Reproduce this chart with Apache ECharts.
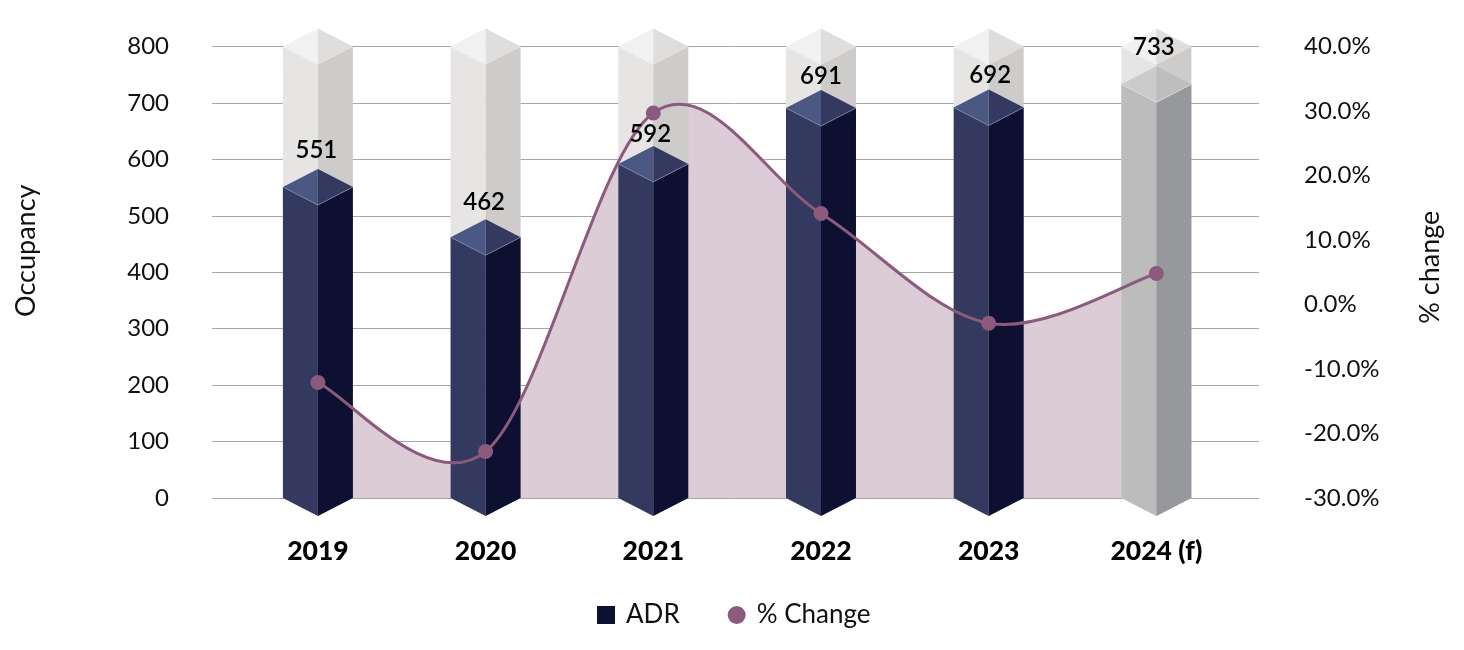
<!DOCTYPE html>
<html><head><meta charset="utf-8">
<style>html,body{margin:0;padding:0;background:#fff}#c{width:1464px;height:650px}</style>
<script src="https://cdn.jsdelivr.net/npm/echarts@6/dist/echarts.min.js"></script>
</head><body><div id="c"></div>
<script>
const categories = ['2019','2020','2021','2022','2023','2024 (f)'];
const adrValues = [551,462,592,691,692,733];
const ceilingValues = [800,800,800,800,800,800];
const pctChange = [-12.1,-22.8,29.7,14.1,-2.9,4.8];
const forecastCategory = '2024 (f)';
const occupancyTicks = {min:0,max:800,step:100};
const pctTicks = {min:-30,max:40,step:10};

const FONT = 'Lato, "Open Sans", sans-serif';
const TEXT = '#111111';
const PLUM = '#8c5a7d';
const NAVY = {left:'#33395f',right:'#0d1030',topL:'#4a5883',topR:'#33395f',edge:'#7d87aa'};
const FORE = {left:'#bcbcbc',right:'#97989b',topL:'#cbcbcb',topR:'#bdbdbd',edge:'#dddddd'};
const GHOST = {left:'#e6e5e4',right:'#cdcccb',topL:'#f0f1f2',topR:'#dfdedc',edge:null};
const HW = 35, HD = 18;
const labelDx = [-1.5,-1.5,-3,0,1.5,-2.5];
const labelDy = [-19,-17,-12,-14,-14,-19];

function column(paletteFor){
  return function(params, api){
    const idx = api.value(0);
    const top = api.coord([idx, api.value(1)]);
    const base = api.coord([idx, 0]);
    const x = top[0], y = top[1], b = base[1];
    const p = paletteFor(idx);
    const poly = (pts, fill) => ({type:'polygon', shape:{points:pts}, style:{fill:fill}, silent:true});
    const kids = [
      poly([[x-HW,y],[x,y+HD],[x,b+HD],[x-HW,b]], p.left),
      poly([[x+HW,y],[x,y+HD],[x,b+HD],[x+HW,b]], p.right),
      poly([[x-HW,y],[x,y-HD],[x,y+HD]], p.topL),
      poly([[x+HW,y],[x,y-HD],[x,y+HD]], p.topR)
    ];
    if(p.edge){
      kids.push({type:'polyline', shape:{points:[[x-HW,y],[x,y+HD],[x+HW,y]]}, style:{fill:null, stroke:p.edge, lineWidth:0.8}, silent:true});
    }
    return {type:'group', children:kids};
  };
}
const byIndex = arr => arr.map((v,i)=>[i,v]);

// Cubic segment i -> i+1 of a Catmull-Rom curve through the % change points, in pixels from the axes.
function segment(api, i){
  const pt = k => {
    const j = Math.max(0, Math.min(pctChange.length-1, k));
    return api.coord([j, pctChange[j]]);
  };
  const p0 = pt(i-1), p1 = pt(i), p2 = pt(i+1), p3 = pt(i+2);
  return {
    p1, p2,
    c1:[p1[0]+(p2[0]-p0[0])/6, p1[1]+(p2[1]-p0[1])/6],
    c2:[p2[0]-(p3[0]-p1[0])/6, p2[1]-(p3[1]-p1[1])/6]
  };
}
function renderCurve(params, api){
  const i = api.value(0);
  if(i >= pctChange.length-1) return null;
  const s = segment(api, i);
  return {type:'bezierCurve', silent:true,
    shape:{x1:s.p1[0],y1:s.p1[1],x2:s.p2[0],y2:s.p2[1],cpx1:s.c1[0],cpy1:s.c1[1],cpx2:s.c2[0],cpy2:s.c2[1]},
    style:{fill:null,stroke:PLUM,lineWidth:3,lineCap:'round'}};
}
function renderArea(params, api){
  const i = api.value(0);
  if(i >= pctChange.length-1) return null;
  const s = segment(api, i);
  const base = api.coord([i, pctTicks.min])[1];
  const pts = [];
  for(let n=0;n<=40;n++){
    const t=n/40,u=1-t;
    pts.push([
      u*u*u*s.p1[0]+3*u*u*t*s.c1[0]+3*u*t*t*s.c2[0]+t*t*t*s.p2[0],
      u*u*u*s.p1[1]+3*u*u*t*s.c1[1]+3*u*t*t*s.c2[1]+t*t*t*s.p2[1]
    ]);
  }
  pts.push([s.p2[0],base],[s.p1[0],base]);
  return {type:'polygon',silent:true,shape:{points:pts},style:{fill:'#dbccd6'}};
}

const chart = echarts.init(document.getElementById('c'), null, {renderer:'canvas'});
chart.setOption({
  animation:false,
  backgroundColor:'#fff',
  textStyle:{fontFamily:FONT},
  grid:{left:212,right:205,top:46.5,bottom:152},
  legend:{
    left:592, top:597, itemWidth:18, itemHeight:18, itemGap:48,
    textStyle:{fontFamily:FONT,fontSize:26,color:TEXT,fontWeight:400,padding:[0,0,0,6]},
    data:[{name:'ADR',icon:'rect'},{name:'% Change',icon:'circle'}]
  },
  xAxis:{
    type:'value', min:-0.6315, max:5.612,
    axisLine:{show:false}, axisTick:{show:false}, splitLine:{show:false},
    axisLabel:{
      customValues:categories.map((c,i)=>i),
      formatter:v=>categories[v],
      margin:40, color:'#000', fontFamily:FONT, fontSize:26.5, fontWeight:900
    }
  },
  yAxis:[
    {type:'value',min:occupancyTicks.min,max:occupancyTicks.max,interval:occupancyTicks.step,position:'left',
     name:'Occupancy',nameLocation:'middle',nameGap:172,nameRotate:90,
     nameTextStyle:{fontFamily:FONT,fontSize:27,color:TEXT,fontWeight:400,padding:[0,0,0,43]},
     axisLine:{show:false},axisTick:{show:false},
     axisLabel:{margin:43,color:TEXT,fontFamily:FONT,fontSize:24,fontWeight:400},
     splitLine:{show:true,lineStyle:{color:'#a6a6a6',width:1}}},
    {type:'value',min:pctTicks.min,max:pctTicks.max,interval:pctTicks.step,position:'right',
     name:'% change',nameLocation:'middle',nameGap:158,nameRotate:90,
     nameTextStyle:{fontFamily:FONT,fontSize:27,color:TEXT,fontWeight:400,padding:[0,0,0,10]},
     axisLine:{show:false},axisTick:{show:false},
     axisLabel:{margin:45,color:TEXT,fontFamily:FONT,fontSize:24,fontWeight:400,align:'left',formatter:v=>v.toFixed(1)+'%'},
     splitLine:{show:false}}
  ],
  series:[
    {name:'Change area',type:'custom',yAxisIndex:1,z:1,data:byIndex(pctChange),renderItem:renderArea,clip:false,silent:true},
    {name:'Ceiling',type:'custom',z:2,data:byIndex(ceilingValues),renderItem:column(()=>GHOST),clip:false,silent:true},
    {name:'ADR',type:'custom',z:3,data:byIndex(adrValues),itemStyle:{color:'#0d1030'},
     renderItem:column(i=>categories[i]===forecastCategory?FORE:NAVY),clip:false,silent:true},
    {name:'Change curve',type:'custom',yAxisIndex:1,z:4,data:byIndex(pctChange),renderItem:renderCurve,clip:false,silent:true},
    {name:'% Change',type:'line',yAxisIndex:1,z:5,data:byIndex(pctChange),symbol:'circle',symbolSize:15,
     lineStyle:{width:0},itemStyle:{color:PLUM},clip:false,silent:true},
    {name:'ADR labels',type:'custom',z:6,data:byIndex(adrValues),clip:false,silent:true,
     renderItem:function(params,api){
       const i = api.value(0);
       const c = api.coord([i,api.value(1)]);
       return {type:'text',style:{text:String(api.value(1)),x:c[0]+labelDx[i],y:c[1]-HD+labelDy[i],align:'center',verticalAlign:'middle',
         fill:'#000',font:'600 24px '+FONT}};
     }}
  ]
});
</script></body></html>
